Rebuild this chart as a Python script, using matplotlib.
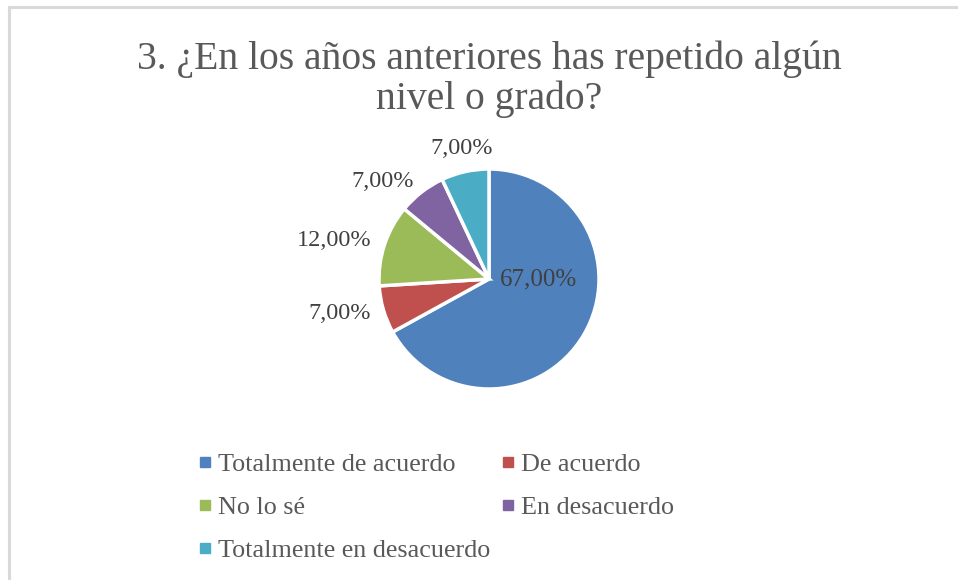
import matplotlib
matplotlib.use("Agg")
import matplotlib.pyplot as plt
from matplotlib.lines import Line2D
import numpy as np

title = "3. ¿En los años anteriores has repetido algún\nnivel o grado?"
categories = ["Totalmente de acuerdo", "De acuerdo", "No lo sé", "En desacuerdo",
              "Totalmente en desacuerdo"]
values = [67.0, 7.0, 12.0, 7.0, 7.0]
colors = ["#4F81BD", "#C0504D", "#9BBB59", "#8064A2", "#4BACC6"]
legend_order = [0, 2, 4, 1, 3]

plt.rcParams['font.family'] = ['Liberation Serif', 'DejaVu Serif']

W, H = 958, 580
fig = plt.figure(figsize=(W / 100, H / 100), dpi=100)
fig.patch.set_facecolor("white")

# chart frame (top & left visible)
fig.add_artist(Line2D([8.5 / W, 8.5 / W], [0, 1 - 6.5 / H], transform=fig.transFigure,
                      color="#D9D9D9", lw=2.2))
fig.add_artist(Line2D([8.5 / W, 1], [1 - 6.5 / H, 1 - 6.5 / H], transform=fig.transFigure,
                      color="#D9D9D9", lw=2.2))

fig.text(489 / W, 1 - 79 / H, title, ha="center", va="center", fontsize=28.5,
         color="#595959", linespacing=1.1)

cx, cy, r = 489, 279, 110
ax = fig.add_axes([(cx - r) / W, (H - cy - r) / H, 2 * r / W, 2 * r / H])
labels_txt = [f"{v:.2f}%".replace(".", ",") for v in values]
wedges, texts = ax.pie(values, colors=colors, startangle=90, counterclock=False,
                       labels=[""] + labels_txt[1:], labeldistance=1.12,
                       wedgeprops=dict(edgecolor="white", linewidth=2.5),
                       textprops=dict(fontsize=17.5, color="#404040"))
ax.set_xlim(-1, 1)
ax.set_ylim(-1, 1)
ax.set_aspect("equal")
ax.axis("off")

# inner label for the big slice
w0 = wedges[0]
ang = np.deg2rad((w0.theta1 + w0.theta2) / 2)
ax.text(0.52 * np.cos(ang), 0.0, labels_txt[0], ha="center",
        va="center", fontsize=18, color="#404040")

for w, t in zip(wedges, texts):
    a = (w.theta1 + w.theta2) / 2
    if abs(np.cos(np.deg2rad(a))) < 0.3:
        t.set_ha("center")
        t.set_va("bottom")

handles = [Line2D([], [], marker="s", linestyle="none", markersize=7,
                  markerfacecolor=colors[i], markeredgecolor=colors[i]) for i in legend_order]
leg = fig.legend(handles, [categories[i] for i in legend_order], ncol=2,
                 loc="upper left", bbox_to_anchor=(200 / W, 1 - 453 / H),
                 frameon=False, fontsize=18.8, handlelength=0.4, handletextpad=0.3,
                 columnspacing=0.45, labelspacing=0.75, borderpad=0, borderaxespad=0)
for t in leg.get_texts():
    t.set_color("#595959")

fig.savefig("out.png", dpi=100, facecolor="white")
